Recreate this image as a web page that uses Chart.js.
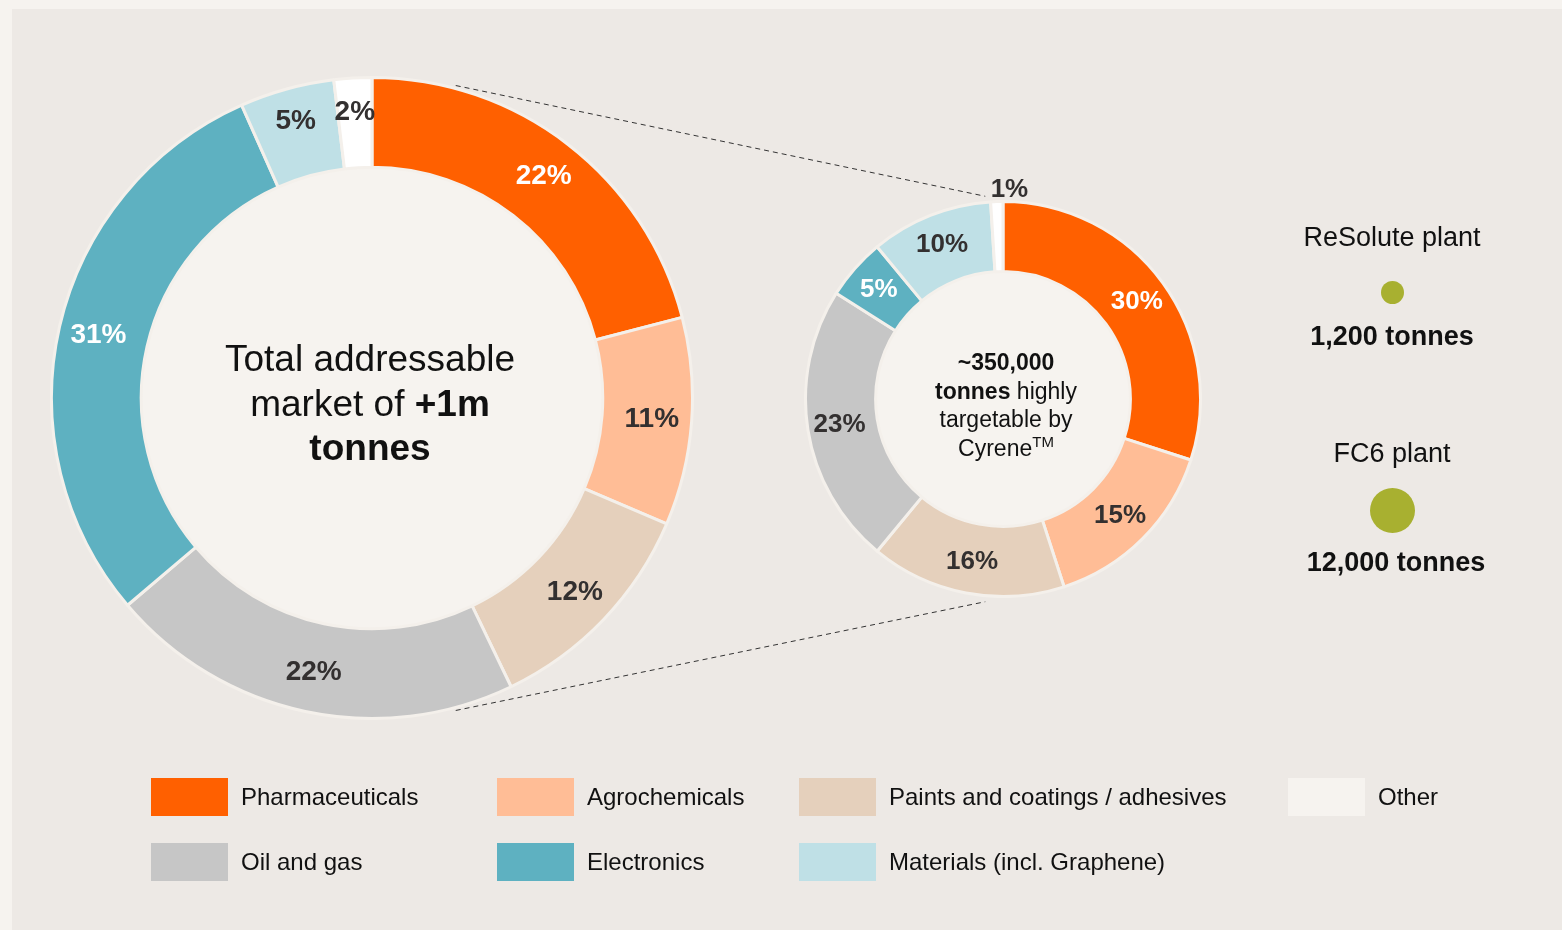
<!DOCTYPE html>
<html>
<head>
<meta charset="utf-8">
<script src="https://cdn.jsdelivr.net/npm/chart.js@4"></script>
<style>
  body { margin: 0; width: 1562px; height: 930px; background: #f6f3ef; overflow: hidden;
         font-family: "Liberation Sans", Arial, sans-serif; color: #111; }
  #panel { position: absolute; left: 12px; top: 9px; width: 1550px; height: 921px; background: #ede9e5; }
  #lines { position: absolute; left: 0; top: 0; }
  .wrap { position: absolute; }
  .center { position: absolute; text-align: center; }
  #bigText { left: 170px; top: 337px; width: 400px; font-size: 37px; line-height: 44.5px; }
  #smallText { left: 906px; top: 348px; width: 200px; font-size: 23px; line-height: 28.5px; }
  #smallText sup { font-size: 15px; vertical-align: 9px; line-height: 0; }
  .plant { position: absolute; width: 300px; text-align: center; font-size: 27px; }
  .dot { position: absolute; border-radius: 50%; background: #a8b030; }
  .leg { position: absolute; display: flex; align-items: center; font-size: 24px; }
  .sw { width: 77px; height: 38px; margin-right: 13px; }
</style>
</head>
<body>
<div id="panel"></div>
<canvas id="lines" width="1562" height="930"></canvas>
<div class="wrap" style="left:50px;top:76px;width:644px;height:644px"><canvas id="big"></canvas></div>
<div class="wrap" style="left:804px;top:170px;width:398px;height:428px"><canvas id="small"></canvas></div>
<div class="center" id="bigText">Total addressable<br>market of <b>+1m</b><br><b>tonnes</b></div>
<div class="center" id="smallText"><b>~350,000</b><br><b>tonnes</b> highly<br>targetable by<br>Cyrene<sup>TM</sup></div>
<div id="plants"></div>
<div id="legend"></div>
<script>
// categories, clockwise from 12 o'clock
const categories = ['Pharmaceuticals', 'Agrochemicals', 'Paints and coatings / adhesives', 'Oil and gas', 'Electronics', 'Materials (incl. Graphene)', 'Other'];
const colors = ['#ff6000', '#ffbd96', '#e5d0bc', '#c6c6c6', '#5eb1c1', '#bfe0e6', '#ffffff'];
const labelColors = ['#ffffff', '#333030', '#333030', '#333030', '#ffffff', '#333030', '#333030'];
// total addressable market (%)
const marketShare = [22, 11, 12, 22, 31, 5, 2];
// ~350,000 t highly targetable by Cyrene (%)
const cyreneShare = [30, 15, 16, 23, 5, 10, 1];
const plantNames = ['ReSolute plant', 'FC6 plant'];
const plantTonnes = ['1,200 tonnes', '12,000 tonnes'];
const legendOrder = [0, 1, 2, 6, 3, 4, 5];

const ringBorder = '#f4f0eb';
const holeColor = '#f6f3ef';

// fill the hole + write the % on each arc
const donutPlugin = {
  id: 'donutExtras',
  beforeDatasetsDraw(chart) {
    const arc = chart.getDatasetMeta(0).data[0];
    const ctx = chart.ctx;
    ctx.save();
    ctx.fillStyle = holeColor;
    ctx.beginPath();
    ctx.arc(arc.x, arc.y, arc.innerRadius, 0, Math.PI * 2);
    ctx.fill();
    ctx.restore();
  },
  afterDatasetsDraw(chart) {
    const ctx = chart.ctx;
    const vals = chart.data.datasets[0].data;
    const big = chart.canvas.id === 'big';
    ctx.save();
    ctx.font = 'bold ' + (big ? 28 : 26) + 'px "Liberation Sans", Arial, sans-serif';
    ctx.textAlign = 'center';
    ctx.textBaseline = 'middle';
    chart.getDatasetMeta(0).data.forEach((a, i) => {
      const mid = (a.startAngle + a.endAngle) / 2;
      let r = (a.innerRadius + a.outerRadius) / 2 + (big ? 5 : 3);
      let dx = 0;
      if (vals[i] <= 1) { r = a.outerRadius + 12; dx = 13; }  // tiny slice: label sits just outside
      else if (vals[i] <= 5 && big) r += 6;
      ctx.fillStyle = labelColors[i];
      ctx.fillText(vals[i] + '%', a.x + Math.cos(mid) * r + dx, a.y + Math.sin(mid) * r);
    });
    ctx.restore();
  }
};

function donut(id, values, cutout, padTop) {
  return new Chart(document.getElementById(id), {
    type: 'doughnut',
    data: {
      labels: categories,
      datasets: [{ data: values, backgroundColor: colors, borderColor: ringBorder, borderWidth: 3 }]
    },
    options: {
      responsive: true,
      maintainAspectRatio: false,
      animation: false,
      cutout: cutout,
      layout: { padding: { top: padTop } },
      plugins: { legend: { display: false }, tooltip: { enabled: false } }
    },
    plugins: [donutPlugin]
  });
}

const bigChart = donut('big', marketShare, '72%', 0);
const smallChart = donut('small', cyreneShare, '64.5%', 30);

// dashed zoom lines between the two rings
function drawLines() {
  const b = bigChart.getDatasetMeta(0).data[0];
  const s = smallChart.getDatasetMeta(0).data[0];
  const bx = 50 + b.x, by = 76 + b.y, bR = b.outerRadius + 3;
  const sx = 804 + s.x, sy = 170 + s.y, sR = s.outerRadius + 6;
  const ctx = document.getElementById('lines').getContext('2d');
  ctx.strokeStyle = '#333';
  ctx.lineWidth = 1;
  ctx.setLineDash([5, 4]);
  const a1 = 15 * Math.PI / 180, a2 = 5 * Math.PI / 180;
  [-1, 1].forEach(sg => {
    ctx.beginPath();
    ctx.moveTo(bx + bR * Math.sin(a1), by + sg * bR * Math.cos(a1));
    ctx.lineTo(sx - sR * Math.sin(a2), sy + sg * sR * Math.cos(a2));
    ctx.stroke();
  });
}
drawLines();

// plant boxes
const plants = document.getElementById('plants');
const nameY = [238, 454];
const dotY = [292, 510];
const tonY = [337, 563];
const dotR = [11.5, 22.5];
plantNames.forEach((n, i) => {
  plants.insertAdjacentHTML('beforeend',
    `<div class="plant" style="left:1242px;top:${nameY[i] - 16}px">${n}</div>` +
    `<div class="dot" style="left:${1392 - dotR[i]}px;top:${dotY[i] - dotR[i]}px;width:${dotR[i] * 2}px;height:${dotR[i] * 2}px"></div>` +
    `<div class="plant" style="left:${1242 + (i ? 4 : 0)}px;top:${tonY[i] - 16}px;font-weight:bold">${plantTonnes[i]}</div>`);
});

// legend
const legend = document.getElementById('legend');
const colX = [151, 497, 799, 1288];
legendOrder.forEach((c, k) => {
  const row = k < 4 ? 0 : 1, col = k < 4 ? k : k - 4;
  const sw = categories[c] === 'Other' ? '#f6f3ef' : colors[c];
  legend.insertAdjacentHTML('beforeend',
    `<div class="leg" style="left:${colX[col]}px;top:${778 + row * 65}px"><div class="sw" style="background:${sw}"></div>${categories[c]}</div>`);
});
</script>
</body>
</html>
